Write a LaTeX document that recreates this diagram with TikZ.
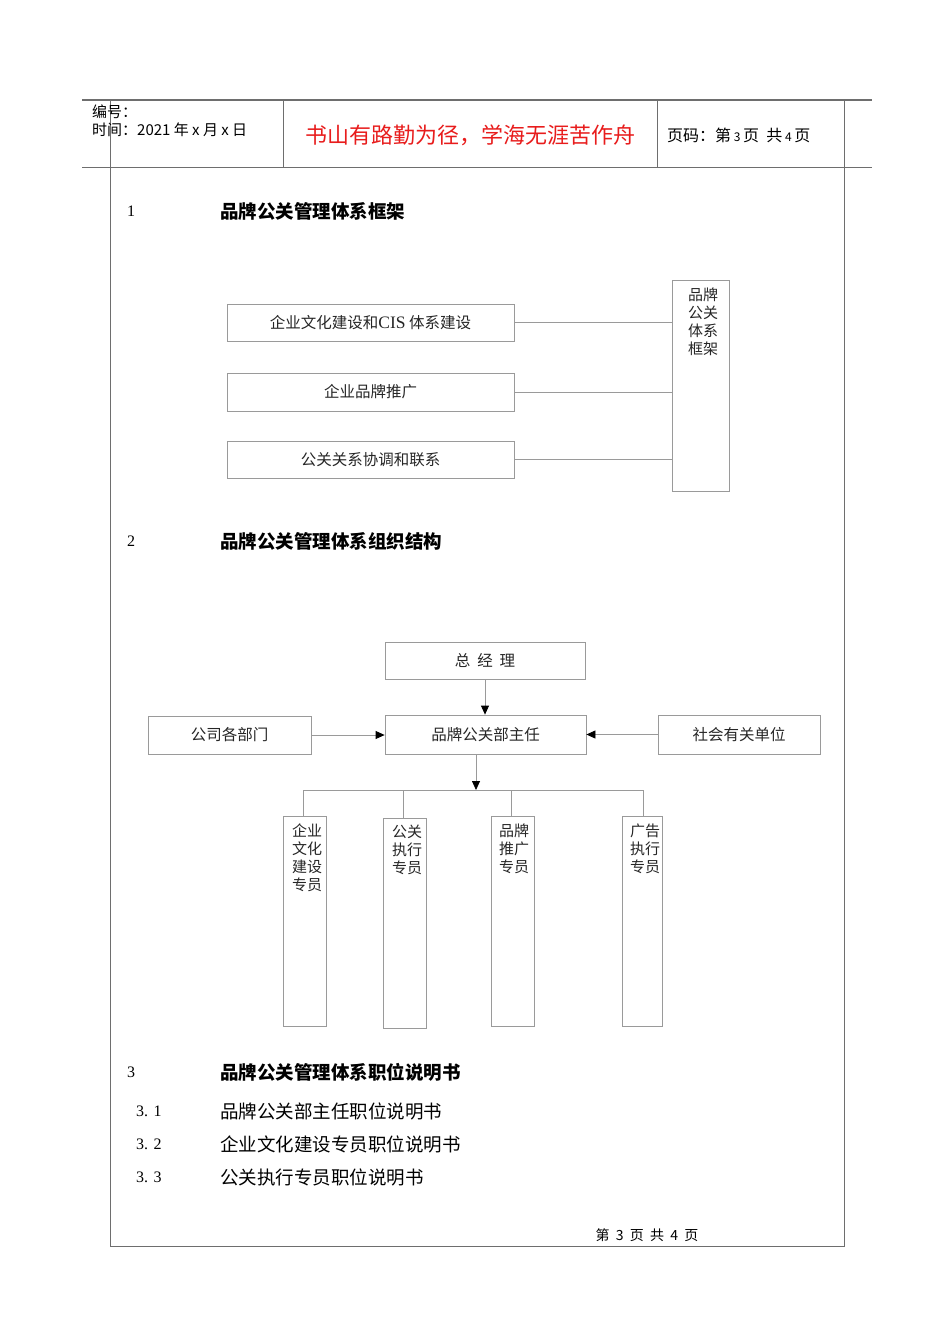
\documentclass[tikz,border=0pt]{standalone}
\usepackage{fontspec}
\setmainfont{Liberation Serif}
\newfontfamily\cjk{Noto Sans CJK SC}
\usetikzlibrary{arrows.meta}
\definecolor{lg}{HTML}{9A9A9A}
\definecolor{frame}{HTML}{6E6E6E}
\definecolor{redt}{HTML}{E81C1C}
\begin{document}
\begin{tikzpicture}[x=1pt,y=-1pt,
  box/.style={draw=lg, line width=0.8pt, inner sep=0pt, font=\fontsize{15.5}{18}\selectfont\cjk, text=black!85},
  conn/.style={draw=lg, line width=0.8pt},
  arr/.style={draw=lg, line width=0.8pt, -{Triangle[length=9pt,width=8pt,color=black]}},
  vtext/.style={anchor=north, inner sep=0pt, align=center, font=\fontsize{15}{18}\selectfont\cjk, text=black!85},
  head/.style={anchor=west, inner sep=0pt, font=\fontsize{18.5}{21}\selectfont\cjk\bfseries},
  num/.style={anchor=west, inner sep=0pt, font=\fontsize{16}{18}\selectfont},
  item/.style={anchor=west, inner sep=0pt, font=\fontsize{18.5}{21}\selectfont\cjk}
]
\useasboundingbox (0,0) rectangle (950,1344);
\fill[white] (0,0) rectangle (950,1344);

% page frame and header
\draw[frame, line width=1.2pt] (82,100) -- (872,100);
\draw[frame, line width=1pt] (82,167) -- (872,167);
\draw[frame, line width=1pt] (110,100) -- (110,1246) -- (844,1246) -- (844,100);
\draw[frame, line width=0.8pt] (283,100) -- (283,167);
\draw[frame, line width=0.8pt] (657,100) -- (657,167);

\node[anchor=west, inner sep=0pt, font=\fontsize{15}{17}\selectfont\cjk] (bh) at (92,112) {编号：};
\node[anchor=west, inner sep=0pt, font=\fontsize{15}{17}\selectfont\cjk] (sj) at (92,130) {时间：2021 年 x 月 x 日};
\node[inner sep=0pt, text=redt, font=\fontsize{22}{25}\selectfont\cjk] (motto) at (470,135) {书山有路勤为径，学海无涯苦作舟};
\node[anchor=west, inner sep=0pt, font=\fontsize{16}{18}\selectfont\cjk] (ym) at (667,135) {页码：第\,{\fontsize{12}{14}\selectfont 3}\,页\ \ 共\,{\fontsize{12}{14}\selectfont 4}\,页};

% section 1
\node[num] (n1) at (127,211) {1};
\node[head] (h1) at (220,211) {品牌公关管理体系框架};

\node[box, minimum width=287pt, minimum height=37pt] (b1) at (370.5,322.5) {企业文化建设和{\rmfamily\fontsize{17.5}{18}\selectfont CIS} 体系建设};
\node[box, minimum width=287pt, minimum height=38pt] (b2) at (370.5,392) {企业品牌推广};
\node[box, minimum width=287pt, minimum height=37pt] (b3) at (370.5,459.5) {公关关系协调和联系};
\node[box, minimum width=57pt, minimum height=211pt] (fr) at (700.5,385.5) {};
\node[vtext] (frt) at (703,288) {品牌\\公关\\体系\\框架};
\draw[conn] (b1.east) -- (b1.east -| fr.west);
\draw[conn] (b2.east) -- (b2.east -| fr.west);
\draw[conn] (b3.east) -- (b3.east -| fr.west);

% section 2
\node[num] (n2) at (127,541) {2};
\node[head] (h2) at (220,541) {品牌公关管理体系组织结构};

\node[box, minimum width=200pt, minimum height=37pt] (gm) at (485,660.5) {总\ \ 经\ \ 理};
\node[box, minimum width=201pt, minimum height=39pt] (dir) at (485.5,734.5) {品牌公关部主任};
\node[box, minimum width=163pt, minimum height=38pt] (dept) at (229.5,735) {公司各部门};
\node[box, minimum width=162pt, minimum height=39pt] (soc) at (739,734.5) {社会有关单位};
\draw[arr] (gm.south) -- (gm.south |- dir.north);
\draw[arr] (dept.east) -- (dept.east -| dir.west);
\draw[arr] (soc.west) -- (soc.west -| dir.east);

\node[box, minimum width=43pt, minimum height=210pt] (s1) at (304.5,921) {};
\node[box, minimum width=43pt, minimum height=210pt] (s2) at (404.5,923) {};
\node[box, minimum width=43pt, minimum height=210pt] (s3) at (512.5,921) {};
\node[box, minimum width=40pt, minimum height=210pt] (s4) at (642,921) {};
\node[vtext] (s1t) at (307,824) {企业\\文化\\建设\\专员};
\node[vtext] (s2t) at (407,825) {公关\\执行\\专员};
\node[vtext] (s3t) at (514,824) {品牌\\推广\\专员};
\node[vtext] (s4t) at (645,824) {广告\\执行\\专员};

\coordinate (bus) at (476,790);
\draw[arr] (dir.south -| bus) -- (bus);
\draw[conn] (303,790) -- (643,790);
\draw[conn] (303,790) -- (303,816);
\draw[conn] (403,790) -- (403,818);
\draw[conn] (511,790) -- (511,816);
\draw[conn] (643,790) -- (643,816);

% section 3
\node[num] (n3) at (127,1072) {3};
\node[head] (h3) at (220,1072) {品牌公关管理体系职位说明书};
\node[num] (i1n) at (136,1111) {3.\,\,1};
\node[item] (i1) at (220,1111) {品牌公关部主任职位说明书};
\node[num] (i2n) at (136,1144) {3.\,\,2};
\node[item] (i2) at (220,1144) {企业文化建设专员职位说明书};
\node[num] (i3n) at (136,1177) {3.\,\,3};
\node[item] (i3) at (220,1177) {公关执行专员职位说明书};

\node[inner sep=0pt, font=\fontsize{14}{16}\selectfont\cjk] (foot) at (647,1235) {第\ \ 3\ \ 页\ \ 共\ \ 4\ \ 页};
\end{tikzpicture}
\end{document}
